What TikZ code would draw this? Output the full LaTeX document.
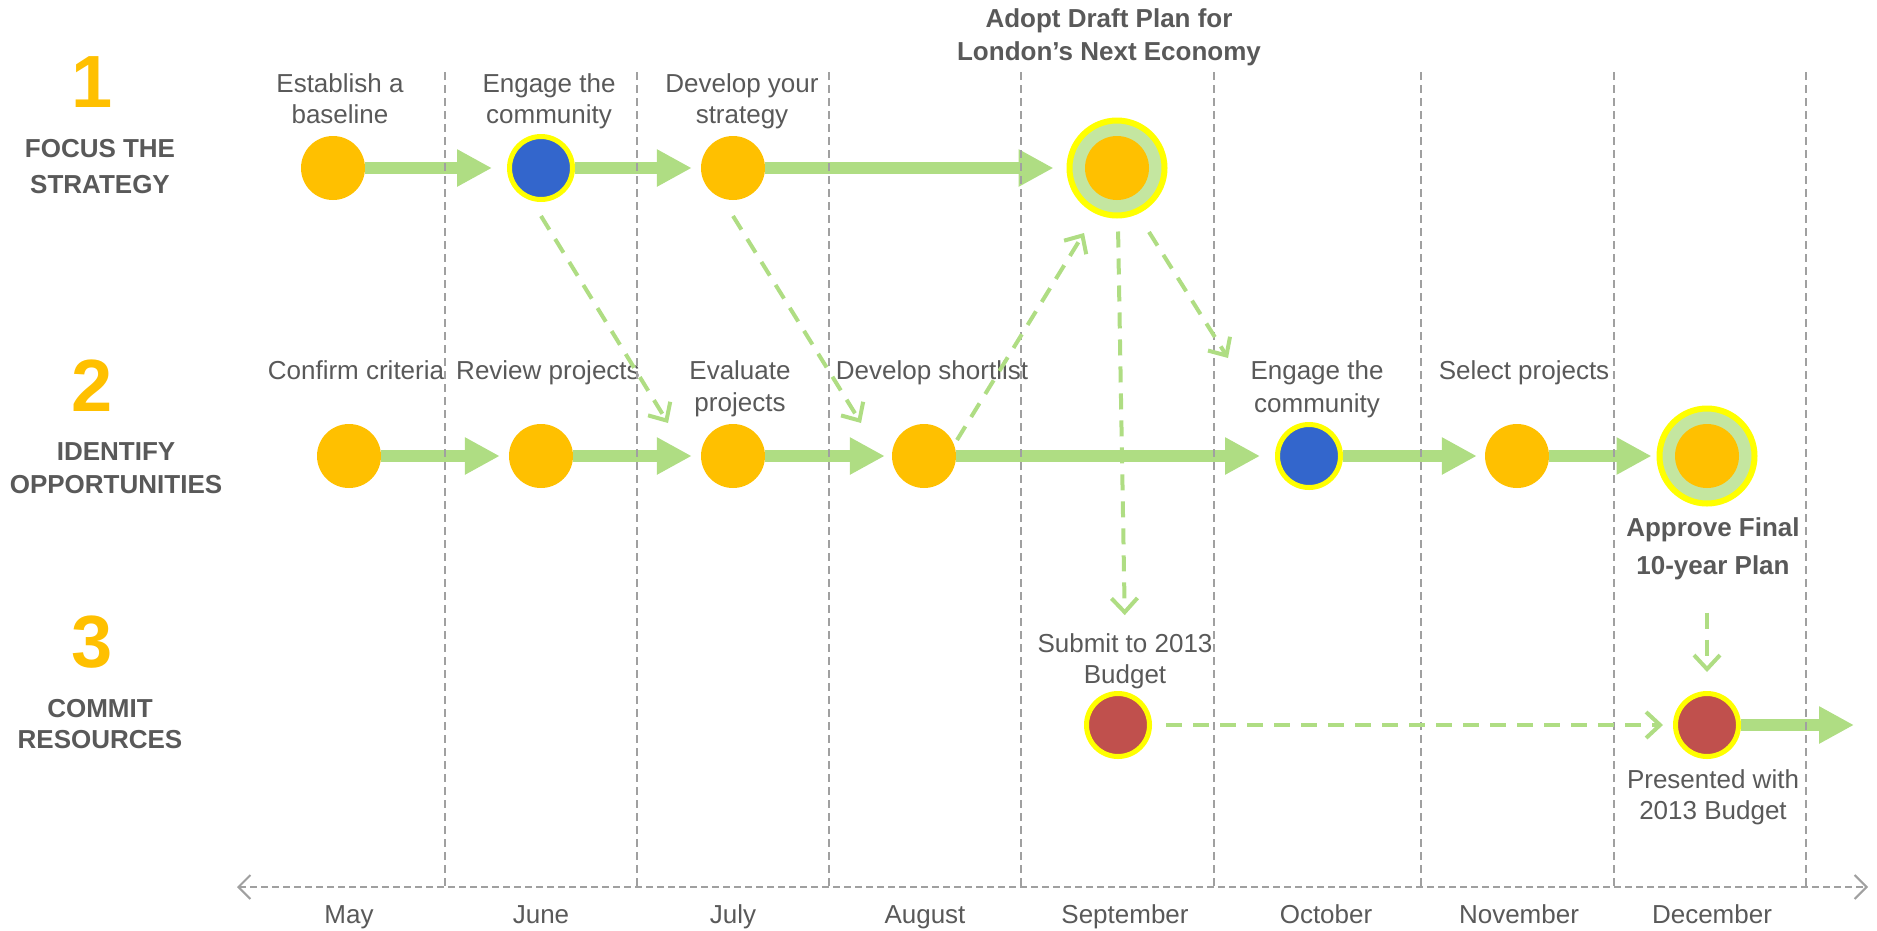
\documentclass[tikz,border=0pt]{standalone}
\usepackage{fontspec}
\setmainfont{Liberation Sans}
\usetikzlibrary{arrows.meta}
\definecolor{cOrange}{HTML}{FFC000}
\definecolor{cBlue}{HTML}{3366CC}
\definecolor{cRed}{HTML}{C0504D}
\definecolor{cYellow}{HTML}{FFFF00}
\definecolor{cGreen}{HTML}{AFDD83}
\definecolor{cRing}{HTML}{C4E6A0}
\definecolor{cText}{HTML}{595959}
\definecolor{cGrid}{HTML}{A0A0A0}
\newcommand\twol[1]{\begin{tabular}[t]{@{}c@{}}#1\end{tabular}}
\begin{document}
\begin{tikzpicture}[x=1pt,y=-1pt,
  lbl/.style={text=cText, inner sep=0pt, anchor=base, font=\fontsize{26}{31}\selectfont},
  num/.style={text=cOrange, inner sep=0pt, anchor=base, font=\bfseries\fontsize{74}{74}\selectfont},
  odot/.style={circle, fill=cOrange, minimum size=64pt, inner sep=0pt},
  ydot/.style={circle, draw=cYellow, line width=5pt, minimum size=63pt, inner sep=0pt},
  ring/.style={circle, draw=cYellow, fill=cRing, line width=6pt, minimum size=95pt, inner sep=0pt},
  flow/.style={draw=cGreen, line width=12pt, -{Triangle[length=35pt,width=35pt]}},
  link/.style={draw=cGreen, line width=4pt, dash pattern=on 16pt off 11pt, -{Straight Barb[length=14pt,width=26pt]}},
  monthline/.style={draw=cGrid, line width=2pt, dash pattern=on 8pt off 5pt},
  axisline/.style={draw=cGrid, line width=2pt, dash pattern=on 7pt off 4pt, {Straight Barb[length=12pt,width=24pt]}-{Straight Barb[length=12pt,width=24pt]}}
]
\useasboundingbox (0,0) rectangle (1877,930);

% ---- left row titles
\node[num] (d1) at (92,107) {1};
\node[lbl, font=\bfseries\fontsize{26}{36}\selectfont] (t1) at (100,157) {\twol{FOCUS THE\\STRATEGY}};
\node[num] (d2) at (92,411) {2};
\node[lbl, font=\bfseries\fontsize{26}{33}\selectfont] (t2) at (116,460) {\twol{IDENTIFY\\OPPORTUNITIES}};
\node[num] (d3) at (92,667) {3};
\node[lbl, font=\bfseries\fontsize{26}{31}\selectfont] (t3) at (100,717) {\twol{COMMIT\\RESOURCES}};

% ---- milestone nodes
\node[odot] (n11) at (333,168) {};
\node[ydot, fill=cBlue] (n12) at (541,168) {};
\node[odot] (n13) at (733,168) {};
\node[ring] (n14) at (1117,168) {};
\fill[cOrange] (n14.center) circle[radius=32pt];

\node[odot] (n21) at (349,456) {};
\node[odot] (n22) at (541,456) {};
\node[odot] (n23) at (733,456) {};
\node[odot] (n24) at (924,456) {};
\node[ydot, fill=cBlue] (n25) at (1309,456) {};
\node[odot] (n26) at (1517,456) {};
\node[ring] (n27) at (1707,456) {};
\fill[cOrange] (n27.center) circle[radius=32pt];

\node[ydot, fill=cRed] (n31) at (1118,725) {};
\node[ydot, fill=cRed] (n32) at (1707,725) {};

% ---- labels
\node[lbl] (l11) at (340,92) {\twol{Establish a\\baseline}};
\node[lbl] (l12) at (549,92) {\twol{Engage the\\community}};
\node[lbl] (l13) at (742,92) {\twol{Develop your\\strategy}};
\node[lbl, font=\bfseries\fontsize{26}{33}\selectfont] (l14) at (1109,27) {\twol{Adopt Draft Plan for\\London’s Next Economy}};

\node[lbl] (l21) at (356,379) {Confirm criteria};
\node[lbl] (l22) at (548,379) {Review projects};
\node[lbl, font=\fontsize{26}{32}\selectfont] (l23) at (740,379) {\twol{Evaluate\\projects}};
\node[lbl] (l24) at (932,379) {Develop shortlist};
\node[lbl, font=\fontsize{26}{33}\selectfont] (l25) at (1317,379) {\twol{Engage the\\community}};
\node[lbl] (l26) at (1524,379) {Select projects};
\node[lbl, font=\bfseries\fontsize{26}{38}\selectfont] (l27) at (1713,536) {\twol{Approve Final\\10-year Plan}};

\node[lbl] (l31) at (1125,652) {\twol{Submit to 2013\\Budget}};
\node[lbl] (l32) at (1713,788) {\twol{Presented with\\2013 Budget}};

% ---- months
\node[lbl] (m1) at (349,923) {May};
\node[lbl] (m2) at (541,923) {June};
\node[lbl] (m3) at (733,923) {July};
\node[lbl] (m4) at (925,923) {August};
\node[lbl] (m5) at (1125,923) {September};
\node[lbl] (m6) at (1326,923) {October};
\node[lbl] (m7) at (1519,923) {November};
\node[lbl] (m8) at (1712,923) {December};

% ---- main flow arrows
\draw[flow, shorten >=15pt] (n11) -- (n12);
\draw[flow, shorten >=9pt] (n12) -- (n13);
\draw[flow, shorten >=13pt] (n13) -- (n14);
\draw[flow, shorten >=9pt] (n21) -- (n22);
\draw[flow, shorten >=9pt] (n22) -- (n23);
\draw[flow, shorten >=7pt] (n23) -- (n24);
\draw[flow, shorten >=15pt] (n24) -- (n25);
\draw[flow, shorten >=8pt] (n25) -- (n26);
\draw[flow, shorten >=5pt] (n26) -- (n27);
\coordinate (e32) at (1854,725);
\draw[flow] (n32) -- (e32);

% ---- month grid and axis
\foreach \gx in {445,637,829,1021,1214,1421,1614,1806}
  \draw[monthline] (\gx,72) -- (\gx,887);
\coordinate (axL) at (237,887);
\coordinate (axR) at (1868,887);
\draw[axisline] (axL) -- (axR);

% ---- dashed dependency arrows
\coordinate (e1) at (668,423);
\coordinate (e2) at (861,423);
\coordinate (e3) at (1084,233);
\coordinate (e5) at (1228,358);
\coordinate (s6) at ([yshift=-27pt]l27.south);
\draw[link] ([yshift=-48pt]n12.center) -- (e1);
\draw[link] ([yshift=-48pt]n13.center) -- (e2);
\draw[link] ([shift={(33pt,16pt)}]n24.center) -- (e3);
\draw[link, shorten <=13pt, shorten >=15pt] (n14) -- (l31.north);
\draw[link] ([shift={(32pt,-64pt)}]n14.center) -- (e5);
\draw[link, shorten >=19pt] (s6 -| n32) -- (n32);
\draw[link, shorten <=14pt, shorten >=10pt] (n31) -- (n32);
\end{tikzpicture}
\end{document}
